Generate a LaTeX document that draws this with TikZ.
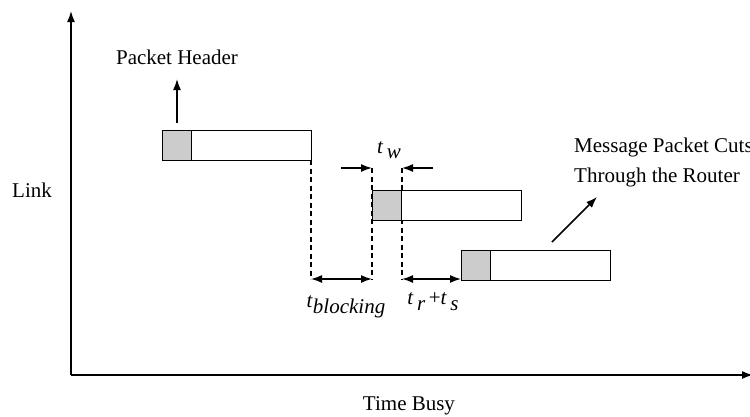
\documentclass[tikz,border=0pt]{standalone}
\usepackage{fontspec}
\setmainfont{Liberation Serif}
\usetikzlibrary{arrows.meta}
\begin{document}
\begin{tikzpicture}[x=1pt,y=-1pt,
  pkt/.style={draw, line width=1.4pt, minimum width=149pt, minimum height=30pt, inner sep=0pt, anchor=north west, fill=white},
  hdr/.style={draw, line width=1.4pt, fill=black!20, minimum width=29pt, minimum height=30pt, inner sep=0pt, anchor=north west},
  lbl/.style={font=\fontsize{21}{25}\selectfont, inner sep=0pt},
  arr/.style={-{Latex[length=11pt,width=8pt]}, line width=1.5pt},
  dbl/.style={{Latex[length=11pt,width=8pt]}-{Latex[length=11pt,width=8pt]}, line width=1.5pt},
  dashline/.style={line width=1.3pt, dash pattern=on 5pt off 3.5pt}]
\useasboundingbox (0,0) rectangle (750,416);
% axes
\coordinate (O) at (71,375);
\coordinate (ytop) at (71,11);
\coordinate (xend) at (753,375);
\draw[arr] (O) -- (ytop);
\draw[arr] (O) -- (xend);
\node[lbl] (link) at (32,190) {Link};
\node[lbl] (time) at (409,406) {Time Busy};
% coordinates for connectors
\coordinate (d1) at (311,279);
\coordinate (w1) at (372,168);
\coordinate (w2) at (402,168);
\coordinate (d2) at (372,279);
\coordinate (d3) at (402,279);
\coordinate (d4) at (461,279);
\coordinate (wl) at (341,168);
\coordinate (wr) at (433,168);
\coordinate (ph) at (177,123);
\coordinate (pt) at (177,79);
\coordinate (ms) at (552,242);
\coordinate (mt) at (597,197);
% dashed guides
\draw[dashline] (311,160) -- (d1);
\draw[dashline] (w1) -- (d2);
\draw[dashline] (w2) -- (d3);
% boxes
\node[pkt] (b1) at (162,130) {};
\node[hdr] (h1) at (162,130) {};
\node[pkt] (b2) at (372,190) {};
\node[hdr] (h2) at (372,190) {};
\node[pkt] (b3) at (461,249.5) {};
\node[hdr] (h3) at (461,249.5) {};
% arrows
\draw[arr] (ph) -- (pt);
\node[lbl] (phl) at (177,57) {Packet Header};
\draw[arr] (wl) -- (w1);
\draw[arr] (wr) -- (w2);
\draw[dbl] (d1) -- (d2);
\draw[dbl] (d3) -- (d4);
\draw[arr] (ms) -- (mt);
% labels
\node[lbl, anchor=west] (m1) at (574,147) {Message Packet Cuts};
\node[lbl, anchor=west] (m2) at (574,177) {Through the Router};
\node[lbl] (tw) at (389,150) {\textit{t}\,\raisebox{-5pt}{\textit{w}}};
\node[lbl] (tb) at (346,307) {\textit{t}\raisebox{-6pt}{\textit{blocking}}};
\node[lbl] (trs) at (433,302) {\textit{t}\,\raisebox{-6pt}{\textit{r}}\,+\textit{t}\,\raisebox{-6pt}{\textit{s}}};
\end{tikzpicture}
\end{document}
